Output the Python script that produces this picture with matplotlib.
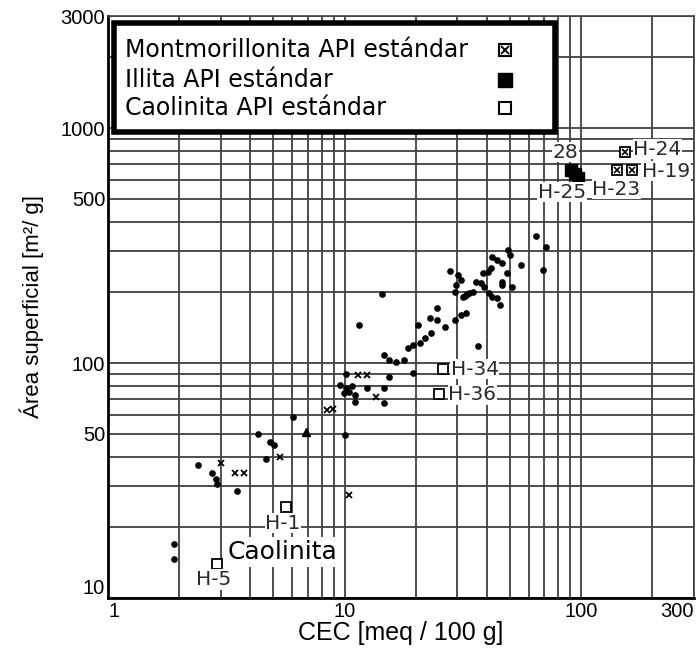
import matplotlib
matplotlib.use("Agg")
import matplotlib.pyplot as plt
from matplotlib.patches import Rectangle
from matplotlib.ticker import FixedLocator, FixedFormatter, NullFormatter

# Datos generales (puntos negros)
cec_puntos = [1.9, 1.9, 2.4, 2.75, 2.85, 2.9, 3.5, 4.3, 4.85, 5.05, 4.65, 6.05, 10.0,
              10.1, 9.6, 10.1, 10.4, 10.8, 11.1, 9.9, 12.5, 14.7, 14.7, 11.1, 15.4, 19.5,
              14.7, 15.4, 16.5, 17.8, 18.6, 19.5, 20.8, 21.8, 23.1,
              14.4, 11.5, 27.9, 30.3, 31.2, 29.7, 29.2, 32.7, 31.8, 33.6, 34.9, 32.2, 33.0,
              35.9, 37.6, 38.7, 38.3, 40.2, 41.4, 42.2, 44.2, 46.3, 49.0, 49.9, 48.5,
              46.3, 46.3, 50.9, 40.6, 42.2, 44.2, 45.4, 55.8, 64.3, 70.7, 69.3,
              24.7, 22.9, 24.7, 20.4, 26.6, 29.2, 31.2, 32.7, 36.6]
area_puntos = [17.0, 14.7, 37.0, 34.0, 32.0, 30.5, 28.5, 50.0, 46.0, 45.0, 39.0, 59.0, 49.5,
               90.0, 80.6, 78.3, 75.3, 79.8, 73.1, 74.5, 78.3, 78.3, 67.6, 68.2, 87.2, 90.6,
               108, 103, 101, 103, 116, 119, 122, 128, 134,
               197, 145, 246, 237, 226, 215, 200, 195, 191, 199, 200, 193, 197,
               221, 219, 211, 242, 244, 254, 283, 274, 267, 303, 288, 242,
               221, 215, 211, 199, 191, 189, 177, 261, 347, 312, 249,
               171, 155, 152, 145, 142, 152, 160, 163, 118]

# Puntos marcados con cruz
cec_cruz = [3.0, 3.45, 3.75, 5.35, 10.4, 8.4, 8.9, 11.4, 12.4, 13.6]
area_cruz = [37.5, 34.0, 34.0, 40.0, 27.5, 63.0, 64.0, 89.0, 89.0, 71.7]

# Punto triangular
cec_triangulo = [6.9]
area_triangulo = [51.0]

# Estándares API
cec_mont = [154, 142, 164]
area_mont = [790, 660, 660]
cec_illita = [91, 94, 97]
area_illita = [665, 640, 615]
cec_caol = [5.65, 2.9, 26.0, 25.0]
area_caol = [24.5, 14.0, 94.0, 74.0]

# Etiquetas de muestras
etiquetas = ["H-1", "H-5", "H-34", "H-36", "28", "H-25", "H-23", "H-24", "H-19"]
etiq_x = [5.5, 2.8, 28.1, 27.4, 86, 83, 141, 166, 181]
etiq_y = [20.8, 12.0, 94, 73.3, 791, 534, 550, 814, 656]
etiq_ha = ["center", "center", "left", "left", "center", "center", "center", "left", "left"]

leyenda = ["Montmorillonita API estándar", "Illita API estándar", "Caolinita API estándar"]

xticks = [1, 10, 100, 300]
yticks = [10, 50, 100, 500, 1000, 3000]

fig = plt.figure(figsize=(6.96, 6.53), dpi=100)
ax = fig.add_axes([108 / 696, 1 - 598 / 653, 586 / 696, 582 / 653])
ax.set_xscale("log")
ax.set_yscale("log")
ax.set_xlim(1, 300)
ax.set_ylim(10, 3000)

ax.grid(True, which="both", color="0.25", lw=1.3, zorder=0)
ax.set_axisbelow(True)

ax.plot(cec_puntos, area_puntos, "o", color="black", ms=3.8, zorder=3)
ax.plot(cec_cruz, area_cruz, "x", color="black", ms=5, mew=1.3, zorder=3)
ax.plot(cec_triangulo, area_triangulo, "^", color="black", ms=5.5, zorder=3)

ax.plot(cec_mont, area_mont, "s", mfc="white", mec="black", ms=7, mew=1.3, zorder=4)
ax.plot(cec_mont, area_mont, "x", color="black", ms=4.5, mew=1.2, zorder=5)
ax.plot(cec_illita, area_illita, "s", color="black", ms=8, zorder=4)
ax.plot(cec_caol, area_caol, "s", mfc="white", mec="black", ms=6.5, mew=1.3, zorder=4)

for t, x, y, ha in zip(etiquetas, etiq_x, etiq_y, etiq_ha):
    ax.text(x, y, t, ha=ha, va="center", fontsize=14.5, color="#2a2a2a", family="DejaVu Sans",
            bbox=dict(facecolor="white", edgecolor="none", pad=0.5), zorder=6)

ax.text(3.19, 15.7, "Caolinita", ha="left", va="center", fontsize=18, color="black",
        family="DejaVu Sans", bbox=dict(facecolor="white", edgecolor="none", pad=2), zorder=6)

# Leyenda dibujada a mano: texto a la izquierda, simbolo a la derecha
ax.add_patch(Rectangle((0.010, 0.800), 0.753, 0.188, transform=ax.transAxes,
                       facecolor="white", edgecolor="black", lw=4, zorder=10))
filas_y = [0.942, 0.890, 0.842]
for texto, fy in zip(leyenda, filas_y):
    ax.text(0.029, fy, texto, transform=ax.transAxes, ha="left", va="center",
            fontsize=17, family="DejaVu Sans", zorder=11)
mx = 0.677
ax.plot([mx], [filas_y[0]], "s", transform=ax.transAxes, mfc="white", mec="black",
        ms=9, mew=1.5, zorder=12, clip_on=False)
ax.plot([mx], [filas_y[0]], "x", transform=ax.transAxes, color="black",
        ms=6, mew=1.4, zorder=13, clip_on=False)
ax.plot([mx], [filas_y[1]], "s", transform=ax.transAxes, color="black",
        ms=10, zorder=12, clip_on=False)
ax.plot([mx], [filas_y[2]], "s", transform=ax.transAxes, mfc="white", mec="black",
        ms=9, mew=1.5, zorder=12, clip_on=False)

ax.xaxis.set_major_locator(FixedLocator(xticks))
ax.xaxis.set_major_formatter(FixedFormatter([str(v) for v in xticks]))
ax.xaxis.set_minor_formatter(NullFormatter())
ax.yaxis.set_major_locator(FixedLocator(yticks))
ax.yaxis.set_major_formatter(FixedFormatter([str(v) for v in yticks]))
ax.yaxis.set_minor_formatter(NullFormatter())
ax.tick_params(which="both", length=0, labelsize=14.5, pad=2)
ax.tick_params(axis="x", pad=3)
for lab in ax.get_xticklabels() + ax.get_yticklabels():
    lab.set_family("Liberation Sans")
ax.get_xticklabels()[-1].set_ha("right")
ax.get_xticklabels()[0].set_ha("left")
ax.get_yticklabels()[0].set_va("bottom")

for s in ["left", "bottom"]:
    ax.spines[s].set_linewidth(2)
for s in ["top", "right"]:
    ax.spines[s].set_linewidth(1.2)
    ax.spines[s].set_color("0.25")

ax.set_xlabel("CEC [meq / 100 g]", fontsize=18, family="Liberation Sans", labelpad=0)
ax.set_ylabel("Área superficial [m²/ g]", fontsize=16, family="Liberation Sans", labelpad=12)

fig.savefig("out.png", dpi=100)
